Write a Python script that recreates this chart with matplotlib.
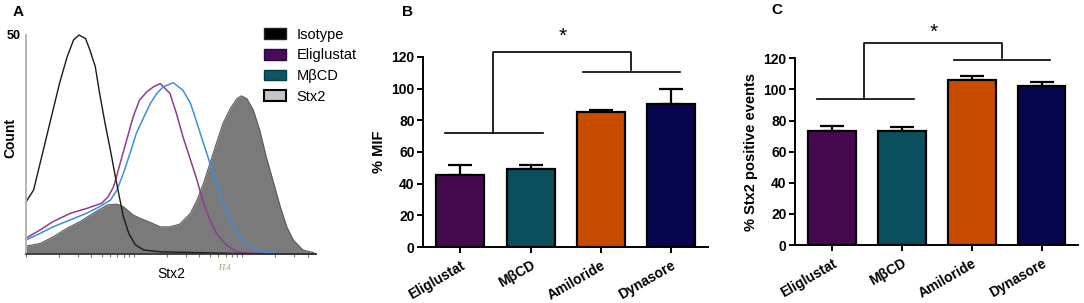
import matplotlib
matplotlib.use("Agg")
import matplotlib.pyplot as plt
import numpy as np
from matplotlib.patches import Patch
from matplotlib.ticker import LogLocator, NullFormatter, NullLocator

plt.rcParams["font.family"] = ["Liberation Sans", "DejaVu Sans"]

# panel A: flow cytometry histograms (x in log decades of FL4, y = count)
iso_x = [0, .07, .13, .19, .25, .31, .38, .44, .49, .55, .59, .64, .68, .73, .78, .82, .85,
         .90, .95, 1.01, 1.09, 1.24, 1.6, 2.0, 2.68]
iso_y = [11.9, 14.6, 20.7, 26.8, 32.9, 39, 45, 48.9, 50, 49.2, 46.6, 42.8, 36.7, 29.9, 23.7,
         18.4, 14.6, 8.5, 4.7, 2.1, 0.9, 0.5, 0.3, 0.1, 0]
stx_x = [0, .13, .25, .38, .50, .62, .75, .84, .90, .99, 1.05, 1.15, 1.24, 1.33, 1.42, 1.52,
         1.58, 1.64, 1.70, 1.76, 1.82, 1.89, 1.95, 1.99, 2.04, 2.10, 2.16, 2.22, 2.29, 2.35,
         2.41, 2.47, 2.56, 2.66]
stx_y = [1.8, 2.4, 3.9, 5.9, 7.4, 9.3, 11.2, 11.4, 10.8, 8.9, 8.2, 7.2, 6.2, 6.2, 6.8, 9.3,
         12.3, 16.1, 20.7, 25.3, 29.8, 33.3, 35.5, 36.1, 35.5, 32.9, 28.3, 22.2, 16.1, 10.8,
         6.2, 3.2, 0.9, 0.3]
eli_x = [0, .13, .25, .41, .56, .70, .76, .81, .87, .93, .99, 1.05, 1.12, 1.18, 1.24, 1.33,
         1.39, 1.45, 1.52, 1.58, 1.64, 1.70, 1.76, 1.85, 1.95, 2.04, 2.3]
eli_y = [3.6, 5.5, 7.4, 9.3, 10.4, 11.6, 13.1, 15.4, 20.7, 26, 31.3, 35.2, 37.1, 38.2, 38.9,
         36.7, 32.1, 26.8, 21.5, 16.9, 11.6, 7.8, 4.7, 2.1, 0.5, 0.2, 0]
mbcd_x = [0, .13, .25, .41, .56, .68, .78, .84, .90, .96, 1.02, 1.09, 1.15, 1.21, 1.27, 1.36,
          1.45, 1.52, 1.58, 1.64, 1.70, 1.76, 1.82, 1.89, 1.95, 2.04, 2.13, 2.26, 2.4]
mbcd_y = [3.2, 4.7, 6.2, 7.8, 9.3, 10.8, 12.3, 14.6, 18.4, 22.9, 27.6, 31.3, 34.4, 36.7, 38.2,
          39.1, 37.4, 34.4, 29.9, 25.3, 20.7, 16.1, 11.6, 7.8, 4.7, 2.1, 0.9, 0.3, 0]

# panels B and C
drugs = ["Eliglustat", "MβCD", "Amiloride", "Dynasore"]
bar_colors = ["#46084f", "#0b4f5f", "#c84c00", "#06064f"]
mif = [45.5, 49.5, 85.5, 90]
mif_err = [6.5, 2.5, 1, 10]
pos_events = [73.3, 73.5, 106, 102]
pos_err = [3.2, 2.5, 2.6, 3]

# significance brackets: (left line y, right line y, bracket top y, star y)
sig_b = (72, 110.5, 123, 133)
sig_c = (94, 119, 130, 137)

fig = plt.figure(figsize=(10.84, 3.03), dpi=100)

# ---------------- panel A ----------------
axa = fig.add_axes([0.024, 0.1617, 0.2675, 0.7228])
d = lambda v: 10 ** np.array(v)
axa.fill_between(d(stx_x), stx_y, 0, color="#7a7a7a", lw=0)
axa.plot(d(stx_x), stx_y, color="#5a5a5a", lw=0.8)
axa.plot(d(eli_x), eli_y, color="#8e3d90", lw=1.1)
axa.plot(d(mbcd_x), mbcd_y, color="#3b8fdc", lw=1.1)
axa.plot(d(iso_x), iso_y, color="#1a1a1a", lw=1.0, clip_on=False)
axa.set_xscale("log")
axa.set_xlim(1, 10 ** 2.68)
axa.set_ylim(0, 50)
axa.xaxis.set_major_locator(LogLocator(base=10, subs=np.arange(1, 10)))
axa.xaxis.set_minor_locator(NullLocator())
axa.xaxis.set_major_formatter(NullFormatter())
axa.tick_params(axis="x", length=2.5, width=0.8, color="#777777")
axa.set_yticks([50])
axa.set_yticklabels(["50"], fontweight="bold", fontsize=9)
axa.tick_params(axis="y", length=0, pad=4)
for s in ["top", "right"]:
    axa.spines[s].set_visible(False)
axa.spines["left"].set_color("#b5b5b5")
axa.spines["left"].set_linewidth(1.4)
axa.spines["bottom"].set_color("#333333")
axa.spines["bottom"].set_linewidth(1.2)
axa.set_ylabel("Count", fontweight="bold", fontsize=10)
axa.yaxis.set_label_coords(-0.03, 0.53)
axa.set_xlabel("Stx2", fontsize=10, labelpad=3)
axa.text(10 ** 1.83, -2.2, "FL4", fontsize=5.5, color="#a89a70", family="Liberation Serif",
         style="italic", ha="center", va="top")
handles = [
    Patch(facecolor="#000000", edgecolor="#222222", label="Isotype"),
    Patch(facecolor="#4a0a5a", edgecolor="#2a0a3a", label="Eliglustat"),
    Patch(facecolor="#0e5566", edgecolor="#083a44", label="MβCD"),
    Patch(facecolor="#c4c4c4", edgecolor="#000000", lw=1.5, label="Stx2"),
]
fig.legend(handles=handles, loc="upper left", bbox_to_anchor=(0.244, 0.908), frameon=False,
           fontsize=10.5, handlelength=1.45, handleheight=0.75, handletextpad=0.75,
           labelspacing=0.45, borderpad=0, borderaxespad=0)


def bar_panel(ax, vals, errs, sig, ylabel):
    x = np.arange(len(drugs))
    ax.bar(x, vals, width=0.68, color=bar_colors, edgecolor="black", linewidth=1.6, zorder=3)
    ax.errorbar(x, vals, yerr=[np.zeros(len(errs)), errs], fmt="none", ecolor="black",
                elinewidth=1.6, capsize=8.5, capthick=1.6, zorder=2)
    ax.set_xlim(-0.53, 3.52)
    ax.set_ylim(0, 120)
    ax.set_yticks(np.arange(0, 121, 20))
    ax.set_xticks(x)
    ax.set_xticklabels(drugs, rotation=30, ha="right", rotation_mode="anchor",
                       fontweight="bold", fontsize=10)
    for lab in ax.get_yticklabels():
        lab.set_fontweight("bold")
        lab.set_fontsize(10)
    ax.tick_params(axis="both", direction="out", length=4, width=1.4, pad=2)
    ax.tick_params(axis="x", pad=4)
    for s in ["top", "right"]:
        ax.spines[s].set_visible(False)
    for s in ["left", "bottom"]:
        ax.spines[s].set_linewidth(1.4)
    ax.set_ylabel(ylabel, fontweight="bold", fontsize=10.5, labelpad=4)
    left_y, right_y, top_y, star_y = sig
    kw = dict(color="black", lw=1.2, clip_on=False)
    ax.plot([-0.21, 1.17], [left_y, left_y], **kw)
    ax.plot([1.75, 3.12], [right_y, right_y], **kw)
    ax.plot([0.46, 0.46, 2.43, 2.43], [left_y, top_y, top_y, right_y + 1], **kw)
    ax.text(1.45, star_y, "*", fontsize=15, ha="center", va="center")


axb = fig.add_axes([0.3902, 0.1848, 0.2629, 0.6271])
bar_panel(axb, mif, mif_err, sig_b, "% MIF")

axc = fig.add_axes([0.7334, 0.1914, 0.2611, 0.6162])
bar_panel(axc, pos_events, pos_err, sig_c, "% Stx2 positive events")

fig.text(0.0166, 0.962, "A", fontsize=11, fontweight="bold", ha="center", va="center")
fig.text(0.3755, 0.962, "B", fontsize=11, fontweight="bold", ha="center", va="center")
fig.text(0.7168, 0.967, "C", fontsize=11, fontweight="bold", ha="center", va="center")

fig.savefig("out.png", dpi=100)
